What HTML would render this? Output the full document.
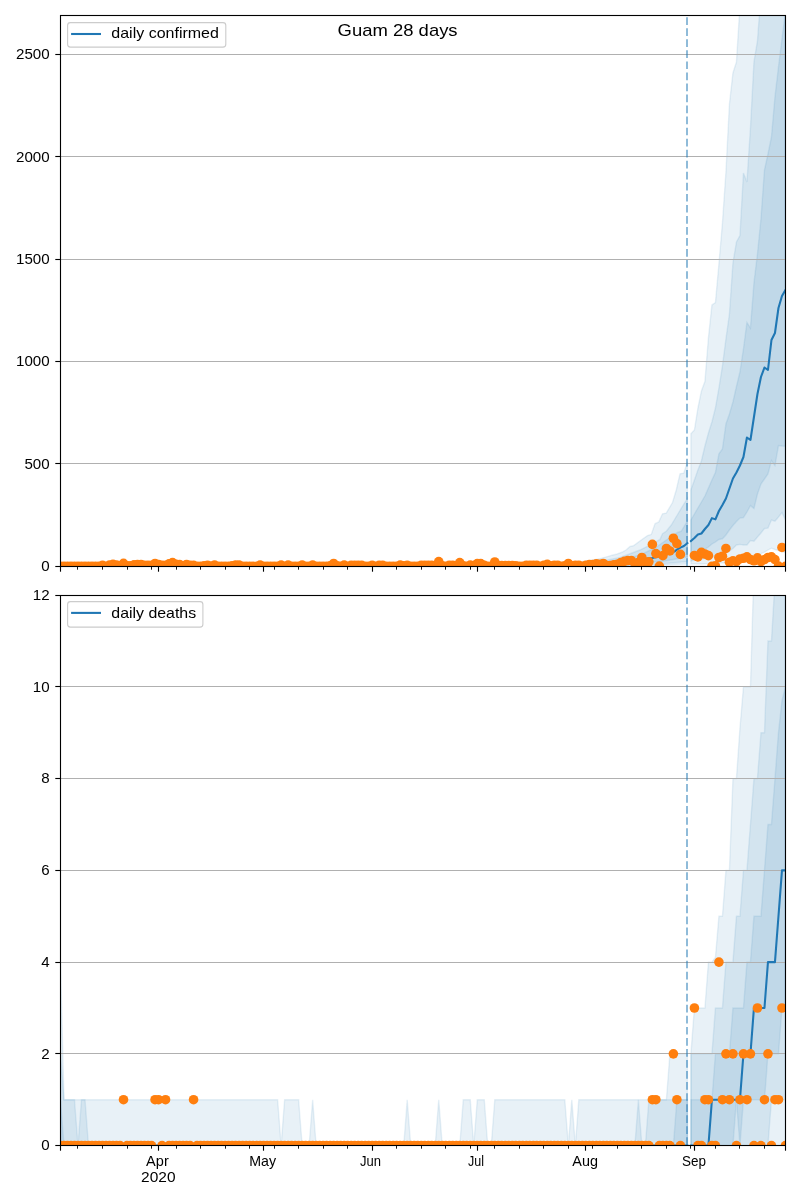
<!DOCTYPE html>
<html><head><meta charset="utf-8"><title>Guam 28 days</title>
<style>html,body{margin:0;padding:0;background:#fff;}body{width:800px;height:1200px;overflow:hidden;font-family:"Liberation Sans",sans-serif;}</style></head>
<body>
<svg width="800" height="1200" viewBox="0 0 800 1200" style="display:block;will-change:transform;font-family:'Liberation Sans',sans-serif">
<defs>
<clipPath id="ct"><rect x="60.5" y="15.5" width="725" height="551"/></clipPath>
<clipPath id="cb"><rect x="60.5" y="595.5" width="725" height="550"/></clipPath>
</defs>
<rect width="800" height="1200" fill="#fff"/>
<g clip-path="url(#ct)">
<polygon points="60.47,565.6 540,564.8 560,563.5 580,562 590,560.5 600,558.6 607.5,556.6 612,555.2 616.25,554.3 622.4,552 626,550 630,546.5 633.75,545.6 641.25,540 647.5,535.6 651.25,534.4 655,523.75 658.75,521.9 662.5,513.75 666.25,513.1 672.5,502.5 676.25,490 680,473.75 683.75,473.1 687.4,462 687.4,564 640,565.7 60.47,566" fill="#1f77b4" fill-opacity="0.1" stroke="#1f77b4" stroke-opacity="0.1" stroke-width="1.39" stroke-linejoin="miter"/>
<polygon points="60.47,565.7 560,565 600,561.5 620,557.5 640,550 650,545 660,539.4 662.5,533.75 666.25,531.25 671.25,525 675,518.75 678.75,512.5 682.5,506.25 687.4,498.5 687.4,561.5 660,564 620,565.5 60.47,566" fill="#1f77b4" fill-opacity="0.1" stroke="#1f77b4" stroke-opacity="0.1" stroke-width="1.39" stroke-linejoin="miter"/>
<polygon points="60.47,565.8 580,565 620,560 640,555 655,548 665,541 672,536 677.5,532.5 681.25,531.25 687.4,521 687.4,557 665,561 640,563.5 600,565.5 60.47,566" fill="#1f77b4" fill-opacity="0.1" stroke="#1f77b4" stroke-opacity="0.1" stroke-width="1.39" stroke-linejoin="miter"/>
<polygon points="690.9,433.75 694.41,430 697.91,408 701.41,391 704.91,381.5 708.42,338 711.92,305 715.42,302.5 718.92,264 722.43,223 725.93,172 729.43,104 732.93,73 736.44,62 739.94,6 743.44,-60 746.94,-120 750.45,-180 753.95,-240 757.45,-300 760.95,-360 764.46,-420 767.96,-480 771.46,-540 774.96,-600 778.47,-660 781.97,-720 785.47,-780 785.47,552.5 781.97,551.5 778.47,550.5 774.96,549.5 771.46,548.2 767.96,550 764.46,552.2 760.95,553.5 757.45,557 753.95,560 750.45,561 746.94,561.5 743.44,562 739.94,562.2 736.44,562.4 732.93,562.6 729.43,562.8 725.93,563 722.43,563 718.92,563 715.42,563.2 711.92,563.4 708.42,563.6 704.91,563.8 701.41,564 697.91,564 694.41,564 690.9,564" fill="#1f77b4" fill-opacity="0.1" stroke="#1f77b4" stroke-opacity="0.1" stroke-width="1.39" stroke-linejoin="miter"/>
<polygon points="690.9,490 694.41,480 697.91,470 701.41,461 704.91,446 708.42,433 711.92,422 715.42,408 718.92,388 722.43,366 725.93,339 729.43,314 732.93,263 736.44,242 739.94,235.6 743.44,173 746.94,182 750.45,128 753.95,62 757.45,41 760.95,-6 764.46,-60 767.96,-110 771.46,-160 774.96,-210 778.47,-260 781.97,-310 785.47,-360 785.47,520 781.97,512.5 778.47,517 774.96,521.25 771.46,520 767.96,528.1 764.46,528.5 760.95,533 757.45,537 753.95,541.25 750.45,540.6 746.94,545 743.44,545 739.94,544.4 736.44,545 732.93,548.5 729.43,551 725.93,552.5 722.43,554 718.92,555 715.42,556 711.92,557 708.42,557.6 704.91,558.3 701.41,559 697.91,559.6 694.41,560.3 690.9,561" fill="#1f77b4" fill-opacity="0.1" stroke="#1f77b4" stroke-opacity="0.1" stroke-width="1.39" stroke-linejoin="miter"/>
<polygon points="690.9,520 694.41,514 697.91,508 701.41,502 704.91,496 708.42,488 711.92,480 715.42,472.5 718.92,453.75 722.43,449 725.93,424 729.43,414 732.93,402 736.44,386.5 739.94,372 743.44,349 746.94,322.5 750.45,328 753.95,283 757.45,254 760.95,219 764.46,170 767.96,154 771.46,137 774.96,97 778.47,67 781.97,39 785.47,11.5 785.47,446.25 781.97,446 778.47,445.6 774.96,465.6 771.46,460.6 767.96,474 764.46,479 760.95,484 757.45,494 753.95,508.5 750.45,505.6 746.94,512 743.44,517.5 739.94,518.1 736.44,521.5 732.93,525.5 729.43,530 725.93,535 722.43,538.75 718.92,539.5 715.42,542 711.92,544 708.42,547 704.91,549 701.41,551 697.91,553 694.41,555 690.9,556" fill="#1f77b4" fill-opacity="0.1" stroke="#1f77b4" stroke-opacity="0.1" stroke-width="1.39" stroke-linejoin="miter"/>
<g stroke="#b0b0b0" stroke-width="1">
<line x1="60.5" x2="785.5" y1="463.5" y2="463.5"/>
<line x1="60.5" x2="785.5" y1="361.5" y2="361.5"/>
<line x1="60.5" x2="785.5" y1="259.5" y2="259.5"/>
<line x1="60.5" x2="785.5" y1="156.5" y2="156.5"/>
<line x1="60.5" x2="785.5" y1="54.5" y2="54.5"/>
</g>
<line x1="687" x2="687" y1="565.9" y2="15.5" stroke="#1f77b4" stroke-opacity="0.5" stroke-width="2" stroke-dasharray="7.7 3.34"/>
<polyline points="60.47,565.9 580,565 600,563 620,561.5 640,559.5 652.5,558.1 665,555 675,551.25 676.9,549.6 680.4,547.6 683.9,546 687.4,543.2" fill="none" stroke="#1f77b4" stroke-width="2.08" stroke-linejoin="round" stroke-linecap="square"/>
<polyline points="690.9,541 694.41,538 697.91,534.5 701.41,533.5 704.91,529 708.42,525 711.92,518.1 715.42,519.4 718.92,511 722.43,505 725.93,498.5 729.43,488.5 732.93,478.5 736.44,472.5 739.94,465.5 743.44,457 746.94,437.5 750.45,440 753.95,417 757.45,394 760.95,377 764.46,367.5 767.96,370 771.46,340 774.96,333 778.47,308 781.97,296 785.47,290" fill="none" stroke="#1f77b4" stroke-width="2.08" stroke-linejoin="round" stroke-linecap="square"/>
<g fill="#ff7f0e"><circle cx="60.47" cy="566.3" r="4.8"/><circle cx="63.97" cy="566.3" r="4.8"/><circle cx="67.47" cy="566.3" r="4.8"/><circle cx="70.98" cy="566.3" r="4.8"/><circle cx="74.48" cy="566.3" r="4.8"/><circle cx="77.98" cy="566.3" r="4.8"/><circle cx="81.48" cy="566.3" r="4.8"/><circle cx="84.99" cy="566.3" r="4.8"/><circle cx="88.49" cy="566.3" r="4.8"/><circle cx="91.99" cy="566.3" r="4.8"/><circle cx="95.49" cy="566.3" r="4.8"/><circle cx="99" cy="566.3" r="4.8"/><circle cx="102.5" cy="565.28" r="4.8"/><circle cx="106" cy="566.3" r="4.8"/><circle cx="109.5" cy="565.07" r="4.8"/><circle cx="113.01" cy="564.35" r="4.8"/><circle cx="116.51" cy="565.07" r="4.8"/><circle cx="120.01" cy="565.89" r="4.8"/><circle cx="123.51" cy="563.33" r="4.8"/><circle cx="127.02" cy="565.69" r="4.8"/><circle cx="130.52" cy="565.69" r="4.8"/><circle cx="134.02" cy="564.87" r="4.8"/><circle cx="137.52" cy="564.46" r="4.8"/><circle cx="141.03" cy="564.46" r="4.8"/><circle cx="144.53" cy="565.28" r="4.8"/><circle cx="148.03" cy="565.28" r="4.8"/><circle cx="151.53" cy="565.28" r="4.8"/><circle cx="155.04" cy="563.43" r="4.8"/><circle cx="158.54" cy="564.46" r="4.8"/><circle cx="162.04" cy="565.28" r="4.8"/><circle cx="165.54" cy="565.28" r="4.8"/><circle cx="169.04" cy="563.84" r="4.8"/><circle cx="172.55" cy="562.61" r="4.8"/><circle cx="176.05" cy="564.25" r="4.8"/><circle cx="179.55" cy="564.46" r="4.8"/><circle cx="183.05" cy="565.89" r="4.8"/><circle cx="186.56" cy="564.46" r="4.8"/><circle cx="190.06" cy="565.28" r="4.8"/><circle cx="193.56" cy="565.28" r="4.8"/><circle cx="197.06" cy="566.3" r="4.8"/><circle cx="200.57" cy="566.3" r="4.8"/><circle cx="204.07" cy="565.89" r="4.8"/><circle cx="207.57" cy="565.28" r="4.8"/><circle cx="211.07" cy="566.1" r="4.8"/><circle cx="214.58" cy="565.07" r="4.8"/><circle cx="218.08" cy="566.3" r="4.8"/><circle cx="221.58" cy="566.3" r="4.8"/><circle cx="225.08" cy="566.3" r="4.8"/><circle cx="228.59" cy="566.3" r="4.8"/><circle cx="232.09" cy="565.89" r="4.8"/><circle cx="235.59" cy="565.07" r="4.8"/><circle cx="239.09" cy="565.07" r="4.8"/><circle cx="242.6" cy="566.3" r="4.8"/><circle cx="246.1" cy="566.3" r="4.8"/><circle cx="249.6" cy="566.3" r="4.8"/><circle cx="253.1" cy="566.3" r="4.8"/><circle cx="256.61" cy="566.3" r="4.8"/><circle cx="260.11" cy="565.07" r="4.8"/><circle cx="263.61" cy="566.3" r="4.8"/><circle cx="267.11" cy="566.3" r="4.8"/><circle cx="270.61" cy="566.3" r="4.8"/><circle cx="274.12" cy="566.3" r="4.8"/><circle cx="277.62" cy="566.3" r="4.8"/><circle cx="281.12" cy="565.07" r="4.8"/><circle cx="284.62" cy="566.3" r="4.8"/><circle cx="288.13" cy="565.07" r="4.8"/><circle cx="291.63" cy="566.3" r="4.8"/><circle cx="295.13" cy="566.3" r="4.8"/><circle cx="298.63" cy="566.3" r="4.8"/><circle cx="302.14" cy="565.07" r="4.8"/><circle cx="305.64" cy="566.3" r="4.8"/><circle cx="309.14" cy="566.3" r="4.8"/><circle cx="312.64" cy="565.07" r="4.8"/><circle cx="316.15" cy="566.3" r="4.8"/><circle cx="319.65" cy="566.3" r="4.8"/><circle cx="323.15" cy="566.3" r="4.8"/><circle cx="326.65" cy="566.3" r="4.8"/><circle cx="330.16" cy="565.89" r="4.8"/><circle cx="333.66" cy="563.43" r="4.8"/><circle cx="337.16" cy="565.89" r="4.8"/><circle cx="340.66" cy="566.3" r="4.8"/><circle cx="344.17" cy="565.07" r="4.8"/><circle cx="347.67" cy="566.3" r="4.8"/><circle cx="351.17" cy="565.28" r="4.8"/><circle cx="354.67" cy="565.28" r="4.8"/><circle cx="358.18" cy="565.28" r="4.8"/><circle cx="361.68" cy="565.28" r="4.8"/><circle cx="365.18" cy="566.3" r="4.8"/><circle cx="368.68" cy="566.3" r="4.8"/><circle cx="372.18" cy="565.28" r="4.8"/><circle cx="375.69" cy="566.3" r="4.8"/><circle cx="379.19" cy="565.28" r="4.8"/><circle cx="382.69" cy="565.28" r="4.8"/><circle cx="386.19" cy="566.3" r="4.8"/><circle cx="389.7" cy="566.3" r="4.8"/><circle cx="393.2" cy="566.3" r="4.8"/><circle cx="396.7" cy="566.3" r="4.8"/><circle cx="400.2" cy="565.07" r="4.8"/><circle cx="403.71" cy="565.89" r="4.8"/><circle cx="407.21" cy="565.28" r="4.8"/><circle cx="410.71" cy="566.3" r="4.8"/><circle cx="414.21" cy="566.3" r="4.8"/><circle cx="417.72" cy="566.3" r="4.8"/><circle cx="421.22" cy="565.28" r="4.8"/><circle cx="424.72" cy="565.28" r="4.8"/><circle cx="428.22" cy="565.28" r="4.8"/><circle cx="431.73" cy="565.28" r="4.8"/><circle cx="435.23" cy="565.69" r="4.8"/><circle cx="438.73" cy="561.59" r="4.8"/><circle cx="442.23" cy="565.89" r="4.8"/><circle cx="445.74" cy="566.3" r="4.8"/><circle cx="449.24" cy="565.28" r="4.8"/><circle cx="452.74" cy="565.28" r="4.8"/><circle cx="456.24" cy="565.69" r="4.8"/><circle cx="459.75" cy="562.61" r="4.8"/><circle cx="463.25" cy="565.89" r="4.8"/><circle cx="466.75" cy="566.3" r="4.8"/><circle cx="470.25" cy="565.07" r="4.8"/><circle cx="473.76" cy="565.48" r="4.8"/><circle cx="477.26" cy="563.64" r="4.8"/><circle cx="480.76" cy="563.64" r="4.8"/><circle cx="484.26" cy="565.28" r="4.8"/><circle cx="487.76" cy="566.3" r="4.8"/><circle cx="491.27" cy="566.3" r="4.8"/><circle cx="494.77" cy="562" r="4.8"/><circle cx="498.27" cy="565.48" r="4.8"/><circle cx="501.77" cy="565.48" r="4.8"/><circle cx="505.28" cy="565.48" r="4.8"/><circle cx="508.78" cy="565.48" r="4.8"/><circle cx="512.28" cy="565.48" r="4.8"/><circle cx="515.78" cy="565.69" r="4.8"/><circle cx="519.29" cy="566.3" r="4.8"/><circle cx="522.79" cy="566.3" r="4.8"/><circle cx="526.29" cy="565.28" r="4.8"/><circle cx="529.79" cy="565.28" r="4.8"/><circle cx="533.3" cy="565.28" r="4.8"/><circle cx="536.8" cy="565.28" r="4.8"/><circle cx="540.3" cy="566.3" r="4.8"/><circle cx="543.8" cy="565.28" r="4.8"/><circle cx="547.31" cy="564.35" r="4.8"/><circle cx="550.81" cy="565.89" r="4.8"/><circle cx="554.31" cy="565.28" r="4.8"/><circle cx="557.81" cy="565.28" r="4.8"/><circle cx="561.32" cy="566.3" r="4.8"/><circle cx="564.82" cy="565.69" r="4.8"/><circle cx="568.32" cy="563.51" r="4.8"/><circle cx="571.82" cy="565.69" r="4.8"/><circle cx="575.33" cy="565.28" r="4.8"/><circle cx="578.83" cy="565.28" r="4.8"/><circle cx="582.33" cy="566.3" r="4.8"/><circle cx="585.83" cy="565.28" r="4.8"/><circle cx="589.33" cy="564.66" r="4.8"/><circle cx="592.84" cy="564.46" r="4.8"/><circle cx="596.34" cy="563.84" r="4.8"/><circle cx="599.84" cy="564.25" r="4.8"/><circle cx="603.34" cy="563.43" r="4.8"/><circle cx="606.85" cy="565.48" r="4.8"/><circle cx="610.35" cy="565.48" r="4.8"/><circle cx="613.85" cy="564.87" r="4.8"/><circle cx="617.35" cy="564.25" r="4.8"/><circle cx="620.86" cy="562.61" r="4.8"/><circle cx="624.36" cy="561.38" r="4.8"/><circle cx="627.86" cy="560.57" r="4.8"/><circle cx="631.36" cy="560.57" r="4.8"/><circle cx="634.87" cy="563.43" r="4.8"/><circle cx="638.37" cy="562.61" r="4.8"/><circle cx="641.87" cy="557.49" r="4.8"/><circle cx="645.37" cy="562.2" r="4.8"/><circle cx="648.88" cy="561.79" r="4.8"/><circle cx="652.38" cy="544.39" r="4.8"/><circle cx="655.88" cy="553.6" r="4.8"/><circle cx="659.38" cy="566.1" r="4.8"/><circle cx="662.89" cy="555.65" r="4.8"/><circle cx="666.39" cy="548.48" r="4.8"/><circle cx="669.89" cy="550.94" r="4.8"/><circle cx="673.39" cy="538.24" r="4.8"/><circle cx="676.9" cy="543.57" r="4.8"/><circle cx="680.4" cy="554.42" r="4.8"/><circle cx="694.41" cy="555.45" r="4.8"/><circle cx="697.91" cy="556.88" r="4.8"/><circle cx="701.41" cy="552.37" r="4.8"/><circle cx="704.91" cy="554.01" r="4.8"/><circle cx="708.42" cy="555.65" r="4.8"/><circle cx="711.92" cy="566.3" r="4.8"/><circle cx="715.42" cy="565.89" r="4.8"/><circle cx="718.92" cy="557.49" r="4.8"/><circle cx="722.43" cy="556.26" r="4.8"/><circle cx="725.93" cy="548.48" r="4.8"/><circle cx="729.43" cy="562.2" r="4.8"/><circle cx="732.93" cy="560.77" r="4.8"/><circle cx="736.44" cy="561.59" r="4.8"/><circle cx="739.94" cy="558.93" r="4.8"/><circle cx="743.44" cy="558.31" r="4.8"/><circle cx="746.94" cy="556.88" r="4.8"/><circle cx="750.45" cy="559.54" r="4.8"/><circle cx="753.95" cy="560.77" r="4.8"/><circle cx="757.45" cy="557.9" r="4.8"/><circle cx="760.95" cy="561.59" r="4.8"/><circle cx="764.46" cy="559.54" r="4.8"/><circle cx="767.96" cy="557.49" r="4.8"/><circle cx="771.46" cy="556.88" r="4.8"/><circle cx="774.96" cy="559.54" r="4.8"/><circle cx="778.47" cy="566.1" r="4.8"/><circle cx="781.97" cy="547.46" r="4.8"/><circle cx="785.47" cy="566.3" r="4.8"/></g>
</g>
<rect x="60.5" y="15.5" width="725" height="551" fill="none" stroke="#000" stroke-width="1.11"/>
<g stroke="#000">
<line x1="60.5" x2="60.5" y1="566.5" y2="571.7" stroke-width="1.11"/>
<line x1="158.5" x2="158.5" y1="566.5" y2="571.7" stroke-width="1.11"/>
<line x1="263.5" x2="263.5" y1="566.5" y2="571.7" stroke-width="1.11"/>
<line x1="372.5" x2="372.5" y1="566.5" y2="571.7" stroke-width="1.11"/>
<line x1="477.5" x2="477.5" y1="566.5" y2="571.7" stroke-width="1.11"/>
<line x1="585.5" x2="585.5" y1="566.5" y2="571.7" stroke-width="1.11"/>
<line x1="694.5" x2="694.5" y1="566.5" y2="571.7" stroke-width="1.11"/>
<line x1="785.5" x2="785.5" y1="566.5" y2="571.7" stroke-width="1.11"/>
<line x1="77.5" x2="77.5" y1="566.5" y2="569.7" stroke-width="0.9"/>
<line x1="102.5" x2="102.5" y1="566.5" y2="569.7" stroke-width="0.9"/>
<line x1="127.5" x2="127.5" y1="566.5" y2="569.7" stroke-width="0.9"/>
<line x1="151.5" x2="151.5" y1="566.5" y2="569.7" stroke-width="0.9"/>
<line x1="176.5" x2="176.5" y1="566.5" y2="569.7" stroke-width="0.9"/>
<line x1="200.5" x2="200.5" y1="566.5" y2="569.7" stroke-width="0.9"/>
<line x1="225.5" x2="225.5" y1="566.5" y2="569.7" stroke-width="0.9"/>
<line x1="249.5" x2="249.5" y1="566.5" y2="569.7" stroke-width="0.9"/>
<line x1="274.5" x2="274.5" y1="566.5" y2="569.7" stroke-width="0.9"/>
<line x1="298.5" x2="298.5" y1="566.5" y2="569.7" stroke-width="0.9"/>
<line x1="323.5" x2="323.5" y1="566.5" y2="569.7" stroke-width="0.9"/>
<line x1="347.5" x2="347.5" y1="566.5" y2="569.7" stroke-width="0.9"/>
<line x1="396.5" x2="396.5" y1="566.5" y2="569.7" stroke-width="0.9"/>
<line x1="421.5" x2="421.5" y1="566.5" y2="569.7" stroke-width="0.9"/>
<line x1="445.5" x2="445.5" y1="566.5" y2="569.7" stroke-width="0.9"/>
<line x1="470.5" x2="470.5" y1="566.5" y2="569.7" stroke-width="0.9"/>
<line x1="494.5" x2="494.5" y1="566.5" y2="569.7" stroke-width="0.9"/>
<line x1="519.5" x2="519.5" y1="566.5" y2="569.7" stroke-width="0.9"/>
<line x1="543.5" x2="543.5" y1="566.5" y2="569.7" stroke-width="0.9"/>
<line x1="568.5" x2="568.5" y1="566.5" y2="569.7" stroke-width="0.9"/>
<line x1="592.5" x2="592.5" y1="566.5" y2="569.7" stroke-width="0.9"/>
<line x1="617.5" x2="617.5" y1="566.5" y2="569.7" stroke-width="0.9"/>
<line x1="641.5" x2="641.5" y1="566.5" y2="569.7" stroke-width="0.9"/>
<line x1="666.5" x2="666.5" y1="566.5" y2="569.7" stroke-width="0.9"/>
<line x1="690.5" x2="690.5" y1="566.5" y2="569.7" stroke-width="0.9"/>
<line x1="715.5" x2="715.5" y1="566.5" y2="569.7" stroke-width="0.9"/>
<line x1="739.5" x2="739.5" y1="566.5" y2="569.7" stroke-width="0.9"/>
<line x1="764.5" x2="764.5" y1="566.5" y2="569.7" stroke-width="0.9"/>
</g>
<g stroke="#000" stroke-width="1.11">
<line x1="55.3" x2="60.5" y1="566.5" y2="566.5"/>
<line x1="55.3" x2="60.5" y1="463.5" y2="463.5"/>
<line x1="55.3" x2="60.5" y1="361.5" y2="361.5"/>
<line x1="55.3" x2="60.5" y1="259.5" y2="259.5"/>
<line x1="55.3" x2="60.5" y1="156.5" y2="156.5"/>
<line x1="55.3" x2="60.5" y1="54.5" y2="54.5"/>
</g>
<g clip-path="url(#cb)">
<polygon points="60.47,962.12 63.97,1099.73 67.47,1099.73 70.98,1099.73 74.48,1099.73 77.98,1099.73 81.48,1099.73 84.99,1099.73 88.49,1099.73 91.99,1099.73 95.49,1099.73 99,1099.73 102.5,1099.73 106,1099.73 109.5,1099.73 113.01,1099.73 116.51,1099.73 120.01,1099.73 123.51,1099.73 127.02,1099.73 130.52,1099.73 134.02,1099.73 137.52,1099.73 141.03,1099.73 144.53,1099.73 148.03,1099.73 151.53,1099.73 155.04,1099.73 158.54,1099.73 162.04,1099.73 165.54,1099.73 169.04,1099.73 172.55,1099.73 176.05,1099.73 179.55,1099.73 183.05,1099.73 186.56,1099.73 190.06,1099.73 193.56,1099.73 197.06,1099.73 200.57,1099.73 204.07,1099.73 207.57,1099.73 211.07,1099.73 214.58,1099.73 218.08,1099.73 221.58,1099.73 225.08,1099.73 228.59,1099.73 232.09,1099.73 235.59,1099.73 239.09,1099.73 242.6,1099.73 246.1,1099.73 249.6,1099.73 253.1,1099.73 256.61,1099.73 260.11,1099.73 263.61,1099.73 267.11,1099.73 270.61,1099.73 274.12,1099.73 277.62,1099.73 281.12,1145.6 284.62,1099.73 288.13,1099.73 291.63,1099.73 295.13,1099.73 298.63,1099.73 302.14,1145.6 305.64,1145.6 309.14,1145.6 312.64,1099.73 316.15,1145.6 319.65,1145.6 323.15,1145.6 326.65,1145.6 330.16,1145.6 333.66,1145.6 337.16,1145.6 340.66,1145.6 344.17,1145.6 347.67,1145.6 351.17,1145.6 354.67,1145.6 358.18,1145.6 361.68,1145.6 365.18,1145.6 368.68,1145.6 372.18,1145.6 375.69,1145.6 379.19,1145.6 382.69,1145.6 386.19,1145.6 389.7,1145.6 393.2,1145.6 396.7,1145.6 400.2,1145.6 403.71,1145.6 407.21,1099.73 410.71,1145.6 414.21,1145.6 417.72,1145.6 421.22,1145.6 424.72,1145.6 428.22,1145.6 431.73,1145.6 435.23,1145.6 438.73,1099.73 442.23,1145.6 445.74,1145.6 449.24,1145.6 452.74,1145.6 456.24,1145.6 459.75,1145.6 463.25,1099.73 466.75,1099.73 470.25,1099.73 473.76,1145.6 477.26,1099.73 480.76,1099.73 484.26,1099.73 487.76,1145.6 491.27,1145.6 494.77,1099.73 498.27,1099.73 501.77,1099.73 505.28,1099.73 508.78,1099.73 512.28,1099.73 515.78,1099.73 519.29,1099.73 522.79,1099.73 526.29,1099.73 529.79,1099.73 533.3,1099.73 536.8,1099.73 540.3,1099.73 543.8,1099.73 547.31,1099.73 550.81,1099.73 554.31,1099.73 557.81,1099.73 561.32,1099.73 564.82,1099.73 568.32,1145.6 571.82,1099.73 575.33,1145.6 578.83,1099.73 582.33,1099.73 585.83,1099.73 589.33,1099.73 592.84,1099.73 596.34,1099.73 599.84,1099.73 603.34,1099.73 606.85,1099.73 610.35,1099.73 613.85,1099.73 617.35,1099.73 620.86,1099.73 624.36,1099.73 627.86,1099.73 631.36,1099.73 634.87,1099.73 638.37,1099.73 641.87,1099.73 645.37,1099.73 648.88,1099.73 652.38,1099.73 655.88,1099.73 659.38,1099.73 662.89,1099.73 666.39,1099.73 669.89,1053.86 673.39,1053.86 676.9,1053.86 680.4,1053.86 683.9,1053.86 687.4,1053.86 687.4,1145.6 683.9,1145.6 680.4,1145.6 676.9,1145.6 673.39,1145.6 669.89,1145.6 666.39,1145.6 662.89,1145.6 659.38,1145.6 655.88,1145.6 652.38,1145.6 648.88,1145.6 645.37,1145.6 641.87,1145.6 638.37,1145.6 634.87,1145.6 631.36,1145.6 627.86,1145.6 624.36,1145.6 620.86,1145.6 617.35,1145.6 613.85,1145.6 610.35,1145.6 606.85,1145.6 603.34,1145.6 599.84,1145.6 596.34,1145.6 592.84,1145.6 589.33,1145.6 585.83,1145.6 582.33,1145.6 578.83,1145.6 575.33,1145.6 571.82,1145.6 568.32,1145.6 564.82,1145.6 561.32,1145.6 557.81,1145.6 554.31,1145.6 550.81,1145.6 547.31,1145.6 543.8,1145.6 540.3,1145.6 536.8,1145.6 533.3,1145.6 529.79,1145.6 526.29,1145.6 522.79,1145.6 519.29,1145.6 515.78,1145.6 512.28,1145.6 508.78,1145.6 505.28,1145.6 501.77,1145.6 498.27,1145.6 494.77,1145.6 491.27,1145.6 487.76,1145.6 484.26,1145.6 480.76,1145.6 477.26,1145.6 473.76,1145.6 470.25,1145.6 466.75,1145.6 463.25,1145.6 459.75,1145.6 456.24,1145.6 452.74,1145.6 449.24,1145.6 445.74,1145.6 442.23,1145.6 438.73,1145.6 435.23,1145.6 431.73,1145.6 428.22,1145.6 424.72,1145.6 421.22,1145.6 417.72,1145.6 414.21,1145.6 410.71,1145.6 407.21,1145.6 403.71,1145.6 400.2,1145.6 396.7,1145.6 393.2,1145.6 389.7,1145.6 386.19,1145.6 382.69,1145.6 379.19,1145.6 375.69,1145.6 372.18,1145.6 368.68,1145.6 365.18,1145.6 361.68,1145.6 358.18,1145.6 354.67,1145.6 351.17,1145.6 347.67,1145.6 344.17,1145.6 340.66,1145.6 337.16,1145.6 333.66,1145.6 330.16,1145.6 326.65,1145.6 323.15,1145.6 319.65,1145.6 316.15,1145.6 312.64,1145.6 309.14,1145.6 305.64,1145.6 302.14,1145.6 298.63,1145.6 295.13,1145.6 291.63,1145.6 288.13,1145.6 284.62,1145.6 281.12,1145.6 277.62,1145.6 274.12,1145.6 270.61,1145.6 267.11,1145.6 263.61,1145.6 260.11,1145.6 256.61,1145.6 253.1,1145.6 249.6,1145.6 246.1,1145.6 242.6,1145.6 239.09,1145.6 235.59,1145.6 232.09,1145.6 228.59,1145.6 225.08,1145.6 221.58,1145.6 218.08,1145.6 214.58,1145.6 211.07,1145.6 207.57,1145.6 204.07,1145.6 200.57,1145.6 197.06,1145.6 193.56,1145.6 190.06,1145.6 186.56,1145.6 183.05,1145.6 179.55,1145.6 176.05,1145.6 172.55,1145.6 169.04,1145.6 165.54,1145.6 162.04,1145.6 158.54,1145.6 155.04,1145.6 151.53,1145.6 148.03,1145.6 144.53,1145.6 141.03,1145.6 137.52,1145.6 134.02,1145.6 130.52,1145.6 127.02,1145.6 123.51,1145.6 120.01,1145.6 116.51,1145.6 113.01,1145.6 109.5,1145.6 106,1145.6 102.5,1145.6 99,1145.6 95.49,1145.6 91.99,1145.6 88.49,1145.6 84.99,1145.6 81.48,1145.6 77.98,1145.6 74.48,1145.6 70.98,1145.6 67.47,1145.6 63.97,1145.6 60.47,1145.6" fill="#1f77b4" fill-opacity="0.1" stroke="#1f77b4" stroke-opacity="0.1" stroke-width="1.39" stroke-linejoin="miter"/>
<polygon points="60.47,1053.86 63.97,1099.73 67.47,1099.73 70.98,1099.73 74.48,1099.73 77.98,1145.6 81.48,1099.73 84.99,1099.73 88.49,1145.6 91.99,1145.6 95.49,1145.6 99,1145.6 102.5,1145.6 106,1145.6 109.5,1145.6 113.01,1145.6 116.51,1145.6 120.01,1145.6 123.51,1145.6 127.02,1145.6 130.52,1145.6 134.02,1145.6 137.52,1145.6 141.03,1145.6 144.53,1145.6 148.03,1145.6 151.53,1145.6 155.04,1145.6 158.54,1145.6 162.04,1145.6 165.54,1145.6 169.04,1145.6 172.55,1145.6 176.05,1145.6 179.55,1145.6 183.05,1145.6 186.56,1145.6 190.06,1145.6 193.56,1145.6 197.06,1145.6 200.57,1145.6 204.07,1145.6 207.57,1145.6 211.07,1145.6 214.58,1145.6 218.08,1145.6 221.58,1145.6 225.08,1145.6 228.59,1145.6 232.09,1145.6 235.59,1145.6 239.09,1145.6 242.6,1145.6 246.1,1145.6 249.6,1145.6 253.1,1145.6 256.61,1145.6 260.11,1145.6 263.61,1145.6 267.11,1145.6 270.61,1145.6 274.12,1145.6 277.62,1145.6 281.12,1145.6 284.62,1145.6 288.13,1145.6 291.63,1145.6 295.13,1145.6 298.63,1145.6 302.14,1145.6 305.64,1145.6 309.14,1145.6 312.64,1145.6 316.15,1145.6 319.65,1145.6 323.15,1145.6 326.65,1145.6 330.16,1145.6 333.66,1145.6 337.16,1145.6 340.66,1145.6 344.17,1145.6 347.67,1145.6 351.17,1145.6 354.67,1145.6 358.18,1145.6 361.68,1145.6 365.18,1145.6 368.68,1145.6 372.18,1145.6 375.69,1145.6 379.19,1145.6 382.69,1145.6 386.19,1145.6 389.7,1145.6 393.2,1145.6 396.7,1145.6 400.2,1145.6 403.71,1145.6 407.21,1145.6 410.71,1145.6 414.21,1145.6 417.72,1145.6 421.22,1145.6 424.72,1145.6 428.22,1145.6 431.73,1145.6 435.23,1145.6 438.73,1145.6 442.23,1145.6 445.74,1145.6 449.24,1145.6 452.74,1145.6 456.24,1145.6 459.75,1145.6 463.25,1145.6 466.75,1145.6 470.25,1145.6 473.76,1145.6 477.26,1145.6 480.76,1145.6 484.26,1145.6 487.76,1145.6 491.27,1145.6 494.77,1145.6 498.27,1145.6 501.77,1145.6 505.28,1145.6 508.78,1145.6 512.28,1145.6 515.78,1145.6 519.29,1145.6 522.79,1145.6 526.29,1145.6 529.79,1145.6 533.3,1145.6 536.8,1145.6 540.3,1145.6 543.8,1145.6 547.31,1145.6 550.81,1145.6 554.31,1145.6 557.81,1145.6 561.32,1145.6 564.82,1145.6 568.32,1145.6 571.82,1145.6 575.33,1145.6 578.83,1145.6 582.33,1145.6 585.83,1145.6 589.33,1145.6 592.84,1145.6 596.34,1145.6 599.84,1145.6 603.34,1145.6 606.85,1145.6 610.35,1145.6 613.85,1145.6 617.35,1145.6 620.86,1145.6 624.36,1145.6 627.86,1145.6 631.36,1145.6 634.87,1145.6 638.37,1099.73 641.87,1145.6 645.37,1145.6 648.88,1099.73 652.38,1099.73 655.88,1099.73 659.38,1099.73 662.89,1099.73 666.39,1099.73 669.89,1099.73 673.39,1099.73 676.9,1099.73 680.4,1099.73 683.9,1099.73 687.4,1099.73 687.4,1145.6 683.9,1145.6 680.4,1145.6 676.9,1145.6 673.39,1145.6 669.89,1145.6 666.39,1145.6 662.89,1145.6 659.38,1145.6 655.88,1145.6 652.38,1145.6 648.88,1145.6 645.37,1145.6 641.87,1145.6 638.37,1145.6 634.87,1145.6 631.36,1145.6 627.86,1145.6 624.36,1145.6 620.86,1145.6 617.35,1145.6 613.85,1145.6 610.35,1145.6 606.85,1145.6 603.34,1145.6 599.84,1145.6 596.34,1145.6 592.84,1145.6 589.33,1145.6 585.83,1145.6 582.33,1145.6 578.83,1145.6 575.33,1145.6 571.82,1145.6 568.32,1145.6 564.82,1145.6 561.32,1145.6 557.81,1145.6 554.31,1145.6 550.81,1145.6 547.31,1145.6 543.8,1145.6 540.3,1145.6 536.8,1145.6 533.3,1145.6 529.79,1145.6 526.29,1145.6 522.79,1145.6 519.29,1145.6 515.78,1145.6 512.28,1145.6 508.78,1145.6 505.28,1145.6 501.77,1145.6 498.27,1145.6 494.77,1145.6 491.27,1145.6 487.76,1145.6 484.26,1145.6 480.76,1145.6 477.26,1145.6 473.76,1145.6 470.25,1145.6 466.75,1145.6 463.25,1145.6 459.75,1145.6 456.24,1145.6 452.74,1145.6 449.24,1145.6 445.74,1145.6 442.23,1145.6 438.73,1145.6 435.23,1145.6 431.73,1145.6 428.22,1145.6 424.72,1145.6 421.22,1145.6 417.72,1145.6 414.21,1145.6 410.71,1145.6 407.21,1145.6 403.71,1145.6 400.2,1145.6 396.7,1145.6 393.2,1145.6 389.7,1145.6 386.19,1145.6 382.69,1145.6 379.19,1145.6 375.69,1145.6 372.18,1145.6 368.68,1145.6 365.18,1145.6 361.68,1145.6 358.18,1145.6 354.67,1145.6 351.17,1145.6 347.67,1145.6 344.17,1145.6 340.66,1145.6 337.16,1145.6 333.66,1145.6 330.16,1145.6 326.65,1145.6 323.15,1145.6 319.65,1145.6 316.15,1145.6 312.64,1145.6 309.14,1145.6 305.64,1145.6 302.14,1145.6 298.63,1145.6 295.13,1145.6 291.63,1145.6 288.13,1145.6 284.62,1145.6 281.12,1145.6 277.62,1145.6 274.12,1145.6 270.61,1145.6 267.11,1145.6 263.61,1145.6 260.11,1145.6 256.61,1145.6 253.1,1145.6 249.6,1145.6 246.1,1145.6 242.6,1145.6 239.09,1145.6 235.59,1145.6 232.09,1145.6 228.59,1145.6 225.08,1145.6 221.58,1145.6 218.08,1145.6 214.58,1145.6 211.07,1145.6 207.57,1145.6 204.07,1145.6 200.57,1145.6 197.06,1145.6 193.56,1145.6 190.06,1145.6 186.56,1145.6 183.05,1145.6 179.55,1145.6 176.05,1145.6 172.55,1145.6 169.04,1145.6 165.54,1145.6 162.04,1145.6 158.54,1145.6 155.04,1145.6 151.53,1145.6 148.03,1145.6 144.53,1145.6 141.03,1145.6 137.52,1145.6 134.02,1145.6 130.52,1145.6 127.02,1145.6 123.51,1145.6 120.01,1145.6 116.51,1145.6 113.01,1145.6 109.5,1145.6 106,1145.6 102.5,1145.6 99,1145.6 95.49,1145.6 91.99,1145.6 88.49,1145.6 84.99,1145.6 81.48,1145.6 77.98,1145.6 74.48,1145.6 70.98,1145.6 67.47,1145.6 63.97,1145.6 60.47,1145.6" fill="#1f77b4" fill-opacity="0.1" stroke="#1f77b4" stroke-opacity="0.1" stroke-width="1.39" stroke-linejoin="miter"/>
<polygon points="60.47,1099.73 63.97,1145.6 67.47,1145.6 70.98,1145.6 74.48,1145.6 77.98,1145.6 81.48,1145.6 84.99,1145.6 88.49,1145.6 91.99,1145.6 95.49,1145.6 99,1145.6 102.5,1145.6 106,1145.6 109.5,1145.6 113.01,1145.6 116.51,1145.6 120.01,1145.6 123.51,1145.6 127.02,1145.6 130.52,1145.6 134.02,1145.6 137.52,1145.6 141.03,1145.6 144.53,1145.6 148.03,1145.6 151.53,1145.6 155.04,1145.6 158.54,1145.6 162.04,1145.6 165.54,1145.6 169.04,1145.6 172.55,1145.6 176.05,1145.6 179.55,1145.6 183.05,1145.6 186.56,1145.6 190.06,1145.6 193.56,1145.6 197.06,1145.6 200.57,1145.6 204.07,1145.6 207.57,1145.6 211.07,1145.6 214.58,1145.6 218.08,1145.6 221.58,1145.6 225.08,1145.6 228.59,1145.6 232.09,1145.6 235.59,1145.6 239.09,1145.6 242.6,1145.6 246.1,1145.6 249.6,1145.6 253.1,1145.6 256.61,1145.6 260.11,1145.6 263.61,1145.6 267.11,1145.6 270.61,1145.6 274.12,1145.6 277.62,1145.6 281.12,1145.6 284.62,1145.6 288.13,1145.6 291.63,1145.6 295.13,1145.6 298.63,1145.6 302.14,1145.6 305.64,1145.6 309.14,1145.6 312.64,1145.6 316.15,1145.6 319.65,1145.6 323.15,1145.6 326.65,1145.6 330.16,1145.6 333.66,1145.6 337.16,1145.6 340.66,1145.6 344.17,1145.6 347.67,1145.6 351.17,1145.6 354.67,1145.6 358.18,1145.6 361.68,1145.6 365.18,1145.6 368.68,1145.6 372.18,1145.6 375.69,1145.6 379.19,1145.6 382.69,1145.6 386.19,1145.6 389.7,1145.6 393.2,1145.6 396.7,1145.6 400.2,1145.6 403.71,1145.6 407.21,1145.6 410.71,1145.6 414.21,1145.6 417.72,1145.6 421.22,1145.6 424.72,1145.6 428.22,1145.6 431.73,1145.6 435.23,1145.6 438.73,1145.6 442.23,1145.6 445.74,1145.6 449.24,1145.6 452.74,1145.6 456.24,1145.6 459.75,1145.6 463.25,1145.6 466.75,1145.6 470.25,1145.6 473.76,1145.6 477.26,1145.6 480.76,1145.6 484.26,1145.6 487.76,1145.6 491.27,1145.6 494.77,1145.6 498.27,1145.6 501.77,1145.6 505.28,1145.6 508.78,1145.6 512.28,1145.6 515.78,1145.6 519.29,1145.6 522.79,1145.6 526.29,1145.6 529.79,1145.6 533.3,1145.6 536.8,1145.6 540.3,1145.6 543.8,1145.6 547.31,1145.6 550.81,1145.6 554.31,1145.6 557.81,1145.6 561.32,1145.6 564.82,1145.6 568.32,1145.6 571.82,1145.6 575.33,1145.6 578.83,1145.6 582.33,1145.6 585.83,1145.6 589.33,1145.6 592.84,1145.6 596.34,1145.6 599.84,1145.6 603.34,1145.6 606.85,1145.6 610.35,1145.6 613.85,1145.6 617.35,1145.6 620.86,1145.6 624.36,1145.6 627.86,1145.6 631.36,1145.6 634.87,1145.6 638.37,1145.6 641.87,1145.6 645.37,1145.6 648.88,1145.6 652.38,1145.6 655.88,1145.6 659.38,1145.6 662.89,1145.6 666.39,1145.6 669.89,1145.6 673.39,1145.6 676.9,1099.73 680.4,1099.73 683.9,1099.73 687.4,1099.73 687.4,1145.6 683.9,1145.6 680.4,1145.6 676.9,1145.6 673.39,1145.6 669.89,1145.6 666.39,1145.6 662.89,1145.6 659.38,1145.6 655.88,1145.6 652.38,1145.6 648.88,1145.6 645.37,1145.6 641.87,1145.6 638.37,1145.6 634.87,1145.6 631.36,1145.6 627.86,1145.6 624.36,1145.6 620.86,1145.6 617.35,1145.6 613.85,1145.6 610.35,1145.6 606.85,1145.6 603.34,1145.6 599.84,1145.6 596.34,1145.6 592.84,1145.6 589.33,1145.6 585.83,1145.6 582.33,1145.6 578.83,1145.6 575.33,1145.6 571.82,1145.6 568.32,1145.6 564.82,1145.6 561.32,1145.6 557.81,1145.6 554.31,1145.6 550.81,1145.6 547.31,1145.6 543.8,1145.6 540.3,1145.6 536.8,1145.6 533.3,1145.6 529.79,1145.6 526.29,1145.6 522.79,1145.6 519.29,1145.6 515.78,1145.6 512.28,1145.6 508.78,1145.6 505.28,1145.6 501.77,1145.6 498.27,1145.6 494.77,1145.6 491.27,1145.6 487.76,1145.6 484.26,1145.6 480.76,1145.6 477.26,1145.6 473.76,1145.6 470.25,1145.6 466.75,1145.6 463.25,1145.6 459.75,1145.6 456.24,1145.6 452.74,1145.6 449.24,1145.6 445.74,1145.6 442.23,1145.6 438.73,1145.6 435.23,1145.6 431.73,1145.6 428.22,1145.6 424.72,1145.6 421.22,1145.6 417.72,1145.6 414.21,1145.6 410.71,1145.6 407.21,1145.6 403.71,1145.6 400.2,1145.6 396.7,1145.6 393.2,1145.6 389.7,1145.6 386.19,1145.6 382.69,1145.6 379.19,1145.6 375.69,1145.6 372.18,1145.6 368.68,1145.6 365.18,1145.6 361.68,1145.6 358.18,1145.6 354.67,1145.6 351.17,1145.6 347.67,1145.6 344.17,1145.6 340.66,1145.6 337.16,1145.6 333.66,1145.6 330.16,1145.6 326.65,1145.6 323.15,1145.6 319.65,1145.6 316.15,1145.6 312.64,1145.6 309.14,1145.6 305.64,1145.6 302.14,1145.6 298.63,1145.6 295.13,1145.6 291.63,1145.6 288.13,1145.6 284.62,1145.6 281.12,1145.6 277.62,1145.6 274.12,1145.6 270.61,1145.6 267.11,1145.6 263.61,1145.6 260.11,1145.6 256.61,1145.6 253.1,1145.6 249.6,1145.6 246.1,1145.6 242.6,1145.6 239.09,1145.6 235.59,1145.6 232.09,1145.6 228.59,1145.6 225.08,1145.6 221.58,1145.6 218.08,1145.6 214.58,1145.6 211.07,1145.6 207.57,1145.6 204.07,1145.6 200.57,1145.6 197.06,1145.6 193.56,1145.6 190.06,1145.6 186.56,1145.6 183.05,1145.6 179.55,1145.6 176.05,1145.6 172.55,1145.6 169.04,1145.6 165.54,1145.6 162.04,1145.6 158.54,1145.6 155.04,1145.6 151.53,1145.6 148.03,1145.6 144.53,1145.6 141.03,1145.6 137.52,1145.6 134.02,1145.6 130.52,1145.6 127.02,1145.6 123.51,1145.6 120.01,1145.6 116.51,1145.6 113.01,1145.6 109.5,1145.6 106,1145.6 102.5,1145.6 99,1145.6 95.49,1145.6 91.99,1145.6 88.49,1145.6 84.99,1145.6 81.48,1145.6 77.98,1145.6 74.48,1145.6 70.98,1145.6 67.47,1145.6 63.97,1145.6 60.47,1145.6" fill="#1f77b4" fill-opacity="0.1" stroke="#1f77b4" stroke-opacity="0.1" stroke-width="1.39" stroke-linejoin="miter"/>
<polygon points="690.9,1053.86 694.41,1007.99 697.91,1007.99 701.41,1007.99 704.91,1007.99 708.42,962.12 711.92,962.12 715.42,957.53 718.92,916.25 722.43,916.25 725.93,870.38 729.43,870.38 732.93,778.64 736.44,778.64 739.94,728.18 743.44,686.9 746.94,686.9 750.45,686.9 753.95,567.64 757.45,503.42 760.95,457.55 764.46,411.68 767.96,365.81 771.46,319.94 774.96,274.07 778.47,228.2 781.97,182.33 785.47,136.46 785.47,1145.6 781.97,1145.6 778.47,1145.6 774.96,1145.6 771.46,1145.6 767.96,1145.6 764.46,1145.6 760.95,1145.6 757.45,1145.6 753.95,1145.6 750.45,1145.6 746.94,1145.6 743.44,1145.6 739.94,1145.6 736.44,1145.6 732.93,1145.6 729.43,1145.6 725.93,1145.6 722.43,1145.6 718.92,1145.6 715.42,1145.6 711.92,1145.6 708.42,1145.6 704.91,1145.6 701.41,1145.6 697.91,1145.6 694.41,1145.6 690.9,1145.6" fill="#1f77b4" fill-opacity="0.1" stroke="#1f77b4" stroke-opacity="0.1" stroke-width="1.39" stroke-linejoin="miter"/>
<polygon points="690.9,1053.86 694.41,1053.86 697.91,1053.86 701.41,1053.86 704.91,1053.86 708.42,1053.86 711.92,1053.86 715.42,1007.99 718.92,1007.99 722.43,1007.99 725.93,962.12 729.43,962.12 732.93,962.12 736.44,916.25 739.94,916.25 743.44,870.38 746.94,870.38 750.45,824.51 753.95,778.64 757.45,778.64 760.95,732.77 764.46,732.77 767.96,641.03 771.46,641.03 774.96,581.4 778.47,526.35 781.97,480.48 785.47,434.61 785.47,1099.73 781.97,1099.73 778.47,1099.73 774.96,1099.73 771.46,1099.73 767.96,1145.6 764.46,1145.6 760.95,1145.6 757.45,1145.6 753.95,1145.6 750.45,1145.6 746.94,1145.6 743.44,1145.6 739.94,1145.6 736.44,1145.6 732.93,1145.6 729.43,1145.6 725.93,1145.6 722.43,1145.6 718.92,1145.6 715.42,1145.6 711.92,1145.6 708.42,1145.6 704.91,1145.6 701.41,1145.6 697.91,1145.6 694.41,1145.6 690.9,1145.6" fill="#1f77b4" fill-opacity="0.1" stroke="#1f77b4" stroke-opacity="0.1" stroke-width="1.39" stroke-linejoin="miter"/>
<polygon points="690.9,1099.73 694.41,1099.73 697.91,1099.73 701.41,1099.73 704.91,1099.73 708.42,1099.73 711.92,1099.73 715.42,1053.86 718.92,1053.86 722.43,1053.86 725.93,1053.86 729.43,1053.86 732.93,1007.99 736.44,1007.99 739.94,1007.99 743.44,1007.99 746.94,962.12 750.45,962.12 753.95,916.25 757.45,916.25 760.95,916.25 764.46,870.38 767.96,824.51 771.46,824.51 774.96,778.64 778.47,732.77 781.97,700.66 785.47,686.9 785.47,1007.99 781.97,1007.99 778.47,1053.86 774.96,1053.86 771.46,1053.86 767.96,1053.86 764.46,1099.73 760.95,1099.73 757.45,1099.73 753.95,1099.73 750.45,1099.73 746.94,1099.73 743.44,1099.73 739.94,1145.6 736.44,1099.73 732.93,1145.6 729.43,1145.6 725.93,1145.6 722.43,1145.6 718.92,1145.6 715.42,1145.6 711.92,1145.6 708.42,1145.6 704.91,1145.6 701.41,1145.6 697.91,1145.6 694.41,1145.6 690.9,1145.6" fill="#1f77b4" fill-opacity="0.1" stroke="#1f77b4" stroke-opacity="0.1" stroke-width="1.39" stroke-linejoin="miter"/>
<g stroke="#b0b0b0" stroke-width="1">
<line x1="60.5" x2="785.5" y1="1053.5" y2="1053.5"/>
<line x1="60.5" x2="785.5" y1="962.5" y2="962.5"/>
<line x1="60.5" x2="785.5" y1="870.5" y2="870.5"/>
<line x1="60.5" x2="785.5" y1="778.5" y2="778.5"/>
<line x1="60.5" x2="785.5" y1="686.5" y2="686.5"/>
</g>
<line x1="687" x2="687" y1="1145" y2="595.5" stroke="#1f77b4" stroke-opacity="0.5" stroke-width="2" stroke-dasharray="7.7 3.34"/>
<polyline points="60.47,1145.6 63.97,1145.6 67.47,1145.6 70.98,1145.6 74.48,1145.6 77.98,1145.6 81.48,1145.6 84.99,1145.6 88.49,1145.6 91.99,1145.6 95.49,1145.6 99,1145.6 102.5,1145.6 106,1145.6 109.5,1145.6 113.01,1145.6 116.51,1145.6 120.01,1145.6 123.51,1145.6 127.02,1145.6 130.52,1145.6 134.02,1145.6 137.52,1145.6 141.03,1145.6 144.53,1145.6 148.03,1145.6 151.53,1145.6 155.04,1145.6 158.54,1145.6 162.04,1145.6 165.54,1145.6 169.04,1145.6 172.55,1145.6 176.05,1145.6 179.55,1145.6 183.05,1145.6 186.56,1145.6 190.06,1145.6 193.56,1145.6 197.06,1145.6 200.57,1145.6 204.07,1145.6 207.57,1145.6 211.07,1145.6 214.58,1145.6 218.08,1145.6 221.58,1145.6 225.08,1145.6 228.59,1145.6 232.09,1145.6 235.59,1145.6 239.09,1145.6 242.6,1145.6 246.1,1145.6 249.6,1145.6 253.1,1145.6 256.61,1145.6 260.11,1145.6 263.61,1145.6 267.11,1145.6 270.61,1145.6 274.12,1145.6 277.62,1145.6 281.12,1145.6 284.62,1145.6 288.13,1145.6 291.63,1145.6 295.13,1145.6 298.63,1145.6 302.14,1145.6 305.64,1145.6 309.14,1145.6 312.64,1145.6 316.15,1145.6 319.65,1145.6 323.15,1145.6 326.65,1145.6 330.16,1145.6 333.66,1145.6 337.16,1145.6 340.66,1145.6 344.17,1145.6 347.67,1145.6 351.17,1145.6 354.67,1145.6 358.18,1145.6 361.68,1145.6 365.18,1145.6 368.68,1145.6 372.18,1145.6 375.69,1145.6 379.19,1145.6 382.69,1145.6 386.19,1145.6 389.7,1145.6 393.2,1145.6 396.7,1145.6 400.2,1145.6 403.71,1145.6 407.21,1145.6 410.71,1145.6 414.21,1145.6 417.72,1145.6 421.22,1145.6 424.72,1145.6 428.22,1145.6 431.73,1145.6 435.23,1145.6 438.73,1145.6 442.23,1145.6 445.74,1145.6 449.24,1145.6 452.74,1145.6 456.24,1145.6 459.75,1145.6 463.25,1145.6 466.75,1145.6 470.25,1145.6 473.76,1145.6 477.26,1145.6 480.76,1145.6 484.26,1145.6 487.76,1145.6 491.27,1145.6 494.77,1145.6 498.27,1145.6 501.77,1145.6 505.28,1145.6 508.78,1145.6 512.28,1145.6 515.78,1145.6 519.29,1145.6 522.79,1145.6 526.29,1145.6 529.79,1145.6 533.3,1145.6 536.8,1145.6 540.3,1145.6 543.8,1145.6 547.31,1145.6 550.81,1145.6 554.31,1145.6 557.81,1145.6 561.32,1145.6 564.82,1145.6 568.32,1145.6 571.82,1145.6 575.33,1145.6 578.83,1145.6 582.33,1145.6 585.83,1145.6 589.33,1145.6 592.84,1145.6 596.34,1145.6 599.84,1145.6 603.34,1145.6 606.85,1145.6 610.35,1145.6 613.85,1145.6 617.35,1145.6 620.86,1145.6 624.36,1145.6 627.86,1145.6 631.36,1145.6 634.87,1145.6 638.37,1145.6 641.87,1145.6 645.37,1145.6 648.88,1145.6 652.38,1145.6 655.88,1145.6 659.38,1145.6 662.89,1145.6 666.39,1145.6 669.89,1145.6 673.39,1145.6 676.9,1145.6 680.4,1145.6 683.9,1145.6 687.4,1145.6" fill="none" stroke="#1f77b4" stroke-width="2.08" stroke-linejoin="round" stroke-linecap="square"/>
<polyline points="690.9,1145.6 694.41,1145.6 697.91,1145.6 701.41,1145.6 704.91,1145.6 708.42,1145.6 711.92,1099.73 715.42,1099.73 718.92,1099.73 722.43,1099.73 725.93,1099.73 729.43,1099.73 732.93,1099.73 736.44,1099.73 739.94,1099.73 743.44,1053.86 746.94,1053.86 750.45,1053.86 753.95,1007.99 757.45,1007.99 760.95,1007.99 764.46,1007.99 767.96,962.12 771.46,962.12 774.96,962.12 778.47,916.25 781.97,870.38 785.47,870.38" fill="none" stroke="#1f77b4" stroke-width="2.08" stroke-linejoin="round" stroke-linecap="square"/>
<g fill="#ff7f0e"><circle cx="60.47" cy="1145.6" r="4.8"/><circle cx="63.97" cy="1145.6" r="4.8"/><circle cx="67.47" cy="1145.6" r="4.8"/><circle cx="70.98" cy="1145.6" r="4.8"/><circle cx="74.48" cy="1145.6" r="4.8"/><circle cx="77.98" cy="1145.6" r="4.8"/><circle cx="81.48" cy="1145.6" r="4.8"/><circle cx="84.99" cy="1145.6" r="4.8"/><circle cx="88.49" cy="1145.6" r="4.8"/><circle cx="91.99" cy="1145.6" r="4.8"/><circle cx="95.49" cy="1145.6" r="4.8"/><circle cx="99" cy="1145.6" r="4.8"/><circle cx="102.5" cy="1145.6" r="4.8"/><circle cx="106" cy="1145.6" r="4.8"/><circle cx="109.5" cy="1145.6" r="4.8"/><circle cx="113.01" cy="1145.6" r="4.8"/><circle cx="116.51" cy="1145.6" r="4.8"/><circle cx="120.01" cy="1145.6" r="4.8"/><circle cx="123.51" cy="1099.73" r="4.8"/><circle cx="127.02" cy="1145.6" r="4.8"/><circle cx="130.52" cy="1145.6" r="4.8"/><circle cx="134.02" cy="1145.6" r="4.8"/><circle cx="137.52" cy="1145.6" r="4.8"/><circle cx="141.03" cy="1145.6" r="4.8"/><circle cx="144.53" cy="1145.6" r="4.8"/><circle cx="148.03" cy="1145.6" r="4.8"/><circle cx="151.53" cy="1145.6" r="4.8"/><circle cx="155.04" cy="1099.73" r="4.8"/><circle cx="158.54" cy="1099.73" r="4.8"/><circle cx="162.04" cy="1145.6" r="4.8"/><circle cx="165.54" cy="1099.73" r="4.8"/><circle cx="169.04" cy="1145.6" r="4.8"/><circle cx="172.55" cy="1145.6" r="4.8"/><circle cx="176.05" cy="1145.6" r="4.8"/><circle cx="179.55" cy="1145.6" r="4.8"/><circle cx="183.05" cy="1145.6" r="4.8"/><circle cx="186.56" cy="1145.6" r="4.8"/><circle cx="190.06" cy="1145.6" r="4.8"/><circle cx="193.56" cy="1099.73" r="4.8"/><circle cx="197.06" cy="1145.6" r="4.8"/><circle cx="200.57" cy="1145.6" r="4.8"/><circle cx="204.07" cy="1145.6" r="4.8"/><circle cx="207.57" cy="1145.6" r="4.8"/><circle cx="211.07" cy="1145.6" r="4.8"/><circle cx="214.58" cy="1145.6" r="4.8"/><circle cx="218.08" cy="1145.6" r="4.8"/><circle cx="221.58" cy="1145.6" r="4.8"/><circle cx="225.08" cy="1145.6" r="4.8"/><circle cx="228.59" cy="1145.6" r="4.8"/><circle cx="232.09" cy="1145.6" r="4.8"/><circle cx="235.59" cy="1145.6" r="4.8"/><circle cx="239.09" cy="1145.6" r="4.8"/><circle cx="242.6" cy="1145.6" r="4.8"/><circle cx="246.1" cy="1145.6" r="4.8"/><circle cx="249.6" cy="1145.6" r="4.8"/><circle cx="253.1" cy="1145.6" r="4.8"/><circle cx="256.61" cy="1145.6" r="4.8"/><circle cx="260.11" cy="1145.6" r="4.8"/><circle cx="263.61" cy="1145.6" r="4.8"/><circle cx="267.11" cy="1145.6" r="4.8"/><circle cx="270.61" cy="1145.6" r="4.8"/><circle cx="274.12" cy="1145.6" r="4.8"/><circle cx="277.62" cy="1145.6" r="4.8"/><circle cx="281.12" cy="1145.6" r="4.8"/><circle cx="284.62" cy="1145.6" r="4.8"/><circle cx="288.13" cy="1145.6" r="4.8"/><circle cx="291.63" cy="1145.6" r="4.8"/><circle cx="295.13" cy="1145.6" r="4.8"/><circle cx="298.63" cy="1145.6" r="4.8"/><circle cx="302.14" cy="1145.6" r="4.8"/><circle cx="305.64" cy="1145.6" r="4.8"/><circle cx="309.14" cy="1145.6" r="4.8"/><circle cx="312.64" cy="1145.6" r="4.8"/><circle cx="316.15" cy="1145.6" r="4.8"/><circle cx="319.65" cy="1145.6" r="4.8"/><circle cx="323.15" cy="1145.6" r="4.8"/><circle cx="326.65" cy="1145.6" r="4.8"/><circle cx="330.16" cy="1145.6" r="4.8"/><circle cx="333.66" cy="1145.6" r="4.8"/><circle cx="337.16" cy="1145.6" r="4.8"/><circle cx="340.66" cy="1145.6" r="4.8"/><circle cx="344.17" cy="1145.6" r="4.8"/><circle cx="347.67" cy="1145.6" r="4.8"/><circle cx="351.17" cy="1145.6" r="4.8"/><circle cx="354.67" cy="1145.6" r="4.8"/><circle cx="358.18" cy="1145.6" r="4.8"/><circle cx="361.68" cy="1145.6" r="4.8"/><circle cx="365.18" cy="1145.6" r="4.8"/><circle cx="368.68" cy="1145.6" r="4.8"/><circle cx="372.18" cy="1145.6" r="4.8"/><circle cx="375.69" cy="1145.6" r="4.8"/><circle cx="379.19" cy="1145.6" r="4.8"/><circle cx="382.69" cy="1145.6" r="4.8"/><circle cx="386.19" cy="1145.6" r="4.8"/><circle cx="389.7" cy="1145.6" r="4.8"/><circle cx="393.2" cy="1145.6" r="4.8"/><circle cx="396.7" cy="1145.6" r="4.8"/><circle cx="400.2" cy="1145.6" r="4.8"/><circle cx="403.71" cy="1145.6" r="4.8"/><circle cx="407.21" cy="1145.6" r="4.8"/><circle cx="410.71" cy="1145.6" r="4.8"/><circle cx="414.21" cy="1145.6" r="4.8"/><circle cx="417.72" cy="1145.6" r="4.8"/><circle cx="421.22" cy="1145.6" r="4.8"/><circle cx="424.72" cy="1145.6" r="4.8"/><circle cx="428.22" cy="1145.6" r="4.8"/><circle cx="431.73" cy="1145.6" r="4.8"/><circle cx="435.23" cy="1145.6" r="4.8"/><circle cx="438.73" cy="1145.6" r="4.8"/><circle cx="442.23" cy="1145.6" r="4.8"/><circle cx="445.74" cy="1145.6" r="4.8"/><circle cx="449.24" cy="1145.6" r="4.8"/><circle cx="452.74" cy="1145.6" r="4.8"/><circle cx="456.24" cy="1145.6" r="4.8"/><circle cx="459.75" cy="1145.6" r="4.8"/><circle cx="463.25" cy="1145.6" r="4.8"/><circle cx="466.75" cy="1145.6" r="4.8"/><circle cx="470.25" cy="1145.6" r="4.8"/><circle cx="473.76" cy="1145.6" r="4.8"/><circle cx="477.26" cy="1145.6" r="4.8"/><circle cx="480.76" cy="1145.6" r="4.8"/><circle cx="484.26" cy="1145.6" r="4.8"/><circle cx="487.76" cy="1145.6" r="4.8"/><circle cx="491.27" cy="1145.6" r="4.8"/><circle cx="494.77" cy="1145.6" r="4.8"/><circle cx="498.27" cy="1145.6" r="4.8"/><circle cx="501.77" cy="1145.6" r="4.8"/><circle cx="505.28" cy="1145.6" r="4.8"/><circle cx="508.78" cy="1145.6" r="4.8"/><circle cx="512.28" cy="1145.6" r="4.8"/><circle cx="515.78" cy="1145.6" r="4.8"/><circle cx="519.29" cy="1145.6" r="4.8"/><circle cx="522.79" cy="1145.6" r="4.8"/><circle cx="526.29" cy="1145.6" r="4.8"/><circle cx="529.79" cy="1145.6" r="4.8"/><circle cx="533.3" cy="1145.6" r="4.8"/><circle cx="536.8" cy="1145.6" r="4.8"/><circle cx="540.3" cy="1145.6" r="4.8"/><circle cx="543.8" cy="1145.6" r="4.8"/><circle cx="547.31" cy="1145.6" r="4.8"/><circle cx="550.81" cy="1145.6" r="4.8"/><circle cx="554.31" cy="1145.6" r="4.8"/><circle cx="557.81" cy="1145.6" r="4.8"/><circle cx="561.32" cy="1145.6" r="4.8"/><circle cx="564.82" cy="1145.6" r="4.8"/><circle cx="568.32" cy="1145.6" r="4.8"/><circle cx="571.82" cy="1145.6" r="4.8"/><circle cx="575.33" cy="1145.6" r="4.8"/><circle cx="578.83" cy="1145.6" r="4.8"/><circle cx="582.33" cy="1145.6" r="4.8"/><circle cx="585.83" cy="1145.6" r="4.8"/><circle cx="589.33" cy="1145.6" r="4.8"/><circle cx="592.84" cy="1145.6" r="4.8"/><circle cx="596.34" cy="1145.6" r="4.8"/><circle cx="599.84" cy="1145.6" r="4.8"/><circle cx="603.34" cy="1145.6" r="4.8"/><circle cx="606.85" cy="1145.6" r="4.8"/><circle cx="610.35" cy="1145.6" r="4.8"/><circle cx="613.85" cy="1145.6" r="4.8"/><circle cx="617.35" cy="1145.6" r="4.8"/><circle cx="620.86" cy="1145.6" r="4.8"/><circle cx="624.36" cy="1145.6" r="4.8"/><circle cx="627.86" cy="1145.6" r="4.8"/><circle cx="631.36" cy="1145.6" r="4.8"/><circle cx="634.87" cy="1145.6" r="4.8"/><circle cx="638.37" cy="1145.6" r="4.8"/><circle cx="641.87" cy="1145.6" r="4.8"/><circle cx="645.37" cy="1145.6" r="4.8"/><circle cx="648.88" cy="1145.6" r="4.8"/><circle cx="652.38" cy="1099.73" r="4.8"/><circle cx="655.88" cy="1099.73" r="4.8"/><circle cx="659.38" cy="1145.6" r="4.8"/><circle cx="662.89" cy="1145.6" r="4.8"/><circle cx="666.39" cy="1145.6" r="4.8"/><circle cx="669.89" cy="1145.6" r="4.8"/><circle cx="673.39" cy="1053.86" r="4.8"/><circle cx="676.9" cy="1099.73" r="4.8"/><circle cx="680.4" cy="1145.6" r="4.8"/><circle cx="694.41" cy="1007.99" r="4.8"/><circle cx="697.91" cy="1145.6" r="4.8"/><circle cx="701.41" cy="1145.6" r="4.8"/><circle cx="704.91" cy="1099.73" r="4.8"/><circle cx="708.42" cy="1099.73" r="4.8"/><circle cx="711.92" cy="1145.6" r="4.8"/><circle cx="715.42" cy="1145.6" r="4.8"/><circle cx="718.92" cy="962.12" r="4.8"/><circle cx="722.43" cy="1099.73" r="4.8"/><circle cx="725.93" cy="1053.86" r="4.8"/><circle cx="729.43" cy="1099.73" r="4.8"/><circle cx="732.93" cy="1053.86" r="4.8"/><circle cx="736.44" cy="1145.6" r="4.8"/><circle cx="739.94" cy="1099.73" r="4.8"/><circle cx="743.44" cy="1053.86" r="4.8"/><circle cx="746.94" cy="1099.73" r="4.8"/><circle cx="750.45" cy="1053.86" r="4.8"/><circle cx="753.95" cy="1145.6" r="4.8"/><circle cx="757.45" cy="1007.99" r="4.8"/><circle cx="760.95" cy="1145.6" r="4.8"/><circle cx="764.46" cy="1099.73" r="4.8"/><circle cx="767.96" cy="1053.86" r="4.8"/><circle cx="771.46" cy="1145.6" r="4.8"/><circle cx="774.96" cy="1099.73" r="4.8"/><circle cx="778.47" cy="1099.73" r="4.8"/><circle cx="781.97" cy="1007.99" r="4.8"/><circle cx="785.47" cy="1145.6" r="4.8"/></g>
</g>
<rect x="60.5" y="595.5" width="725" height="550" fill="none" stroke="#000" stroke-width="1.11"/>
<g stroke="#000">
<line x1="60.5" x2="60.5" y1="1145.5" y2="1150.7" stroke-width="1.11"/>
<line x1="158.5" x2="158.5" y1="1145.5" y2="1150.7" stroke-width="1.11"/>
<line x1="263.5" x2="263.5" y1="1145.5" y2="1150.7" stroke-width="1.11"/>
<line x1="372.5" x2="372.5" y1="1145.5" y2="1150.7" stroke-width="1.11"/>
<line x1="477.5" x2="477.5" y1="1145.5" y2="1150.7" stroke-width="1.11"/>
<line x1="585.5" x2="585.5" y1="1145.5" y2="1150.7" stroke-width="1.11"/>
<line x1="694.5" x2="694.5" y1="1145.5" y2="1150.7" stroke-width="1.11"/>
<line x1="785.5" x2="785.5" y1="1145.5" y2="1150.7" stroke-width="1.11"/>
<line x1="77.5" x2="77.5" y1="1145.5" y2="1148.7" stroke-width="0.9"/>
<line x1="102.5" x2="102.5" y1="1145.5" y2="1148.7" stroke-width="0.9"/>
<line x1="127.5" x2="127.5" y1="1145.5" y2="1148.7" stroke-width="0.9"/>
<line x1="151.5" x2="151.5" y1="1145.5" y2="1148.7" stroke-width="0.9"/>
<line x1="176.5" x2="176.5" y1="1145.5" y2="1148.7" stroke-width="0.9"/>
<line x1="200.5" x2="200.5" y1="1145.5" y2="1148.7" stroke-width="0.9"/>
<line x1="225.5" x2="225.5" y1="1145.5" y2="1148.7" stroke-width="0.9"/>
<line x1="249.5" x2="249.5" y1="1145.5" y2="1148.7" stroke-width="0.9"/>
<line x1="274.5" x2="274.5" y1="1145.5" y2="1148.7" stroke-width="0.9"/>
<line x1="298.5" x2="298.5" y1="1145.5" y2="1148.7" stroke-width="0.9"/>
<line x1="323.5" x2="323.5" y1="1145.5" y2="1148.7" stroke-width="0.9"/>
<line x1="347.5" x2="347.5" y1="1145.5" y2="1148.7" stroke-width="0.9"/>
<line x1="396.5" x2="396.5" y1="1145.5" y2="1148.7" stroke-width="0.9"/>
<line x1="421.5" x2="421.5" y1="1145.5" y2="1148.7" stroke-width="0.9"/>
<line x1="445.5" x2="445.5" y1="1145.5" y2="1148.7" stroke-width="0.9"/>
<line x1="470.5" x2="470.5" y1="1145.5" y2="1148.7" stroke-width="0.9"/>
<line x1="494.5" x2="494.5" y1="1145.5" y2="1148.7" stroke-width="0.9"/>
<line x1="519.5" x2="519.5" y1="1145.5" y2="1148.7" stroke-width="0.9"/>
<line x1="543.5" x2="543.5" y1="1145.5" y2="1148.7" stroke-width="0.9"/>
<line x1="568.5" x2="568.5" y1="1145.5" y2="1148.7" stroke-width="0.9"/>
<line x1="592.5" x2="592.5" y1="1145.5" y2="1148.7" stroke-width="0.9"/>
<line x1="617.5" x2="617.5" y1="1145.5" y2="1148.7" stroke-width="0.9"/>
<line x1="641.5" x2="641.5" y1="1145.5" y2="1148.7" stroke-width="0.9"/>
<line x1="666.5" x2="666.5" y1="1145.5" y2="1148.7" stroke-width="0.9"/>
<line x1="690.5" x2="690.5" y1="1145.5" y2="1148.7" stroke-width="0.9"/>
<line x1="715.5" x2="715.5" y1="1145.5" y2="1148.7" stroke-width="0.9"/>
<line x1="739.5" x2="739.5" y1="1145.5" y2="1148.7" stroke-width="0.9"/>
<line x1="764.5" x2="764.5" y1="1145.5" y2="1148.7" stroke-width="0.9"/>
</g>
<g stroke="#000" stroke-width="1.11">
<line x1="55.3" x2="60.5" y1="1145.5" y2="1145.5"/>
<line x1="55.3" x2="60.5" y1="1053.5" y2="1053.5"/>
<line x1="55.3" x2="60.5" y1="962.5" y2="962.5"/>
<line x1="55.3" x2="60.5" y1="870.5" y2="870.5"/>
<line x1="55.3" x2="60.5" y1="778.5" y2="778.5"/>
<line x1="55.3" x2="60.5" y1="686.5" y2="686.5"/>
<line x1="55.3" x2="60.5" y1="595.5" y2="595.5"/>
</g>
<text x="49.6" y="571.1" text-anchor="end" font-size="14.2" fill="#000" textLength="8.4" lengthAdjust="spacingAndGlyphs">0</text>
<text x="49.6" y="468.7" text-anchor="end" font-size="14.2" fill="#000" textLength="25.2" lengthAdjust="spacingAndGlyphs">500</text>
<text x="49.6" y="366.3" text-anchor="end" font-size="14.2" fill="#000" textLength="33.6" lengthAdjust="spacingAndGlyphs">1000</text>
<text x="49.6" y="263.9" text-anchor="end" font-size="14.2" fill="#000" textLength="33.6" lengthAdjust="spacingAndGlyphs">1500</text>
<text x="49.6" y="161.5" text-anchor="end" font-size="14.2" fill="#000" textLength="33.6" lengthAdjust="spacingAndGlyphs">2000</text>
<text x="49.6" y="59.1" text-anchor="end" font-size="14.2" fill="#000" textLength="33.6" lengthAdjust="spacingAndGlyphs">2500</text>
<text x="49.6" y="1150.4" text-anchor="end" font-size="14.2" fill="#000" textLength="8.4" lengthAdjust="spacingAndGlyphs">0</text>
<text x="49.6" y="1058.66" text-anchor="end" font-size="14.2" fill="#000" textLength="8.4" lengthAdjust="spacingAndGlyphs">2</text>
<text x="49.6" y="966.92" text-anchor="end" font-size="14.2" fill="#000" textLength="8.4" lengthAdjust="spacingAndGlyphs">4</text>
<text x="49.6" y="875.18" text-anchor="end" font-size="14.2" fill="#000" textLength="8.4" lengthAdjust="spacingAndGlyphs">6</text>
<text x="49.6" y="783.44" text-anchor="end" font-size="14.2" fill="#000" textLength="8.4" lengthAdjust="spacingAndGlyphs">8</text>
<text x="49.6" y="691.7" text-anchor="end" font-size="14.2" fill="#000" textLength="16.8" lengthAdjust="spacingAndGlyphs">10</text>
<text x="49.6" y="599.96" text-anchor="end" font-size="14.2" fill="#000" textLength="16.8" lengthAdjust="spacingAndGlyphs">12</text>
<text x="157.44" y="1166" text-anchor="middle" font-size="14.2" fill="#000" textLength="22.6" lengthAdjust="spacingAndGlyphs">Apr</text>
<text x="262.61" y="1166" text-anchor="middle" font-size="14.2" fill="#000" textLength="26.8" lengthAdjust="spacingAndGlyphs">May</text>
<text x="370.58" y="1166" text-anchor="middle" font-size="14.2" fill="#000" textLength="21" lengthAdjust="spacingAndGlyphs">Jun</text>
<text x="475.96" y="1166" text-anchor="middle" font-size="14.2" fill="#000" textLength="16" lengthAdjust="spacingAndGlyphs">Jul</text>
<text x="585.13" y="1166" text-anchor="middle" font-size="14.2" fill="#000" textLength="25.6" lengthAdjust="spacingAndGlyphs">Aug</text>
<text x="694.11" y="1166" text-anchor="middle" font-size="14.2" fill="#000" textLength="24" lengthAdjust="spacingAndGlyphs">Sep</text>
<text x="158.34" y="1181.6" text-anchor="middle" font-size="14.2" fill="#000" textLength="34.4" lengthAdjust="spacingAndGlyphs">2020</text>
<text x="397.6" y="36" text-anchor="middle" font-size="17" fill="#000" textLength="120" lengthAdjust="spacingAndGlyphs">Guam 28 days</text>
<rect x="67.6" y="22.6" width="158.2" height="24.5" rx="2.8" ry="2.8" fill="#fff" fill-opacity="0.8" stroke="#ccc" stroke-width="1.11"/>
<line x1="71.1" x2="101" y1="34" y2="34" stroke="#1f77b4" stroke-width="2.08"/>
<text x="111.3" y="38" text-anchor="start" font-size="14.2" fill="#000" textLength="107.6" lengthAdjust="spacingAndGlyphs">daily confirmed</text>
<rect x="67.6" y="601.6" width="135.3" height="25.5" rx="2.8" ry="2.8" fill="#fff" fill-opacity="0.8" stroke="#ccc" stroke-width="1.11"/>
<line x1="71.1" x2="101" y1="612.9" y2="612.9" stroke="#1f77b4" stroke-width="2.08"/>
<text x="111.3" y="618" text-anchor="start" font-size="14.2" fill="#000" textLength="84.8" lengthAdjust="spacingAndGlyphs">daily deaths</text>
</svg>
</body></html>
